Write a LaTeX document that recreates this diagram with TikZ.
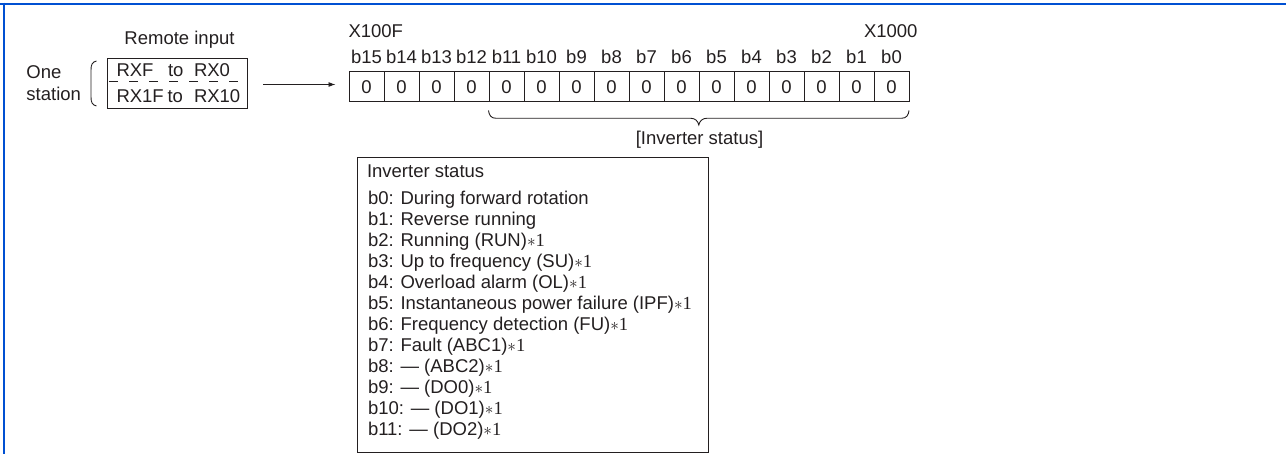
\documentclass[tikz,border=0pt]{standalone}
\usepackage{fontspec}
\setmainfont{Liberation Sans}
\newfontfamily\serifnum{Liberation Serif}
\usetikzlibrary{arrows.meta}
\definecolor{ink}{RGB}{35,31,32}
\definecolor{frameblue}{RGB}{0,80,210}
\newcommand{\fn}{{\serifnum$\ast$1}}
\begin{document}
\begin{tikzpicture}[x=1pt,y=-1pt,
  every node/.style={font=\fontsize{18.5}{21}\selectfont, text=ink, inner sep=0pt, outer sep=0pt},
  txt/.style={anchor=base},
  ltxt/.style={anchor=base west},
  cell/.style={draw=ink, line width=0.9pt, minimum width=35pt, minimum height=30pt},
  thin/.style={draw=ink, line width=0.9pt}]
\useasboundingbox (0,0) rectangle (1286,454);
% blue frame
\draw[frameblue, line width=2.2pt] (0,3.8) -- (1286,3.8);
\draw[frameblue, line width=2.2pt] (4,2.7) -- (4,454);

% left part
\node[txt] (remote) at (179.5,45) {Remote input};
\node[ltxt] (one) at (26.5,79) {One};
\node[ltxt] (station) at (26.5,100.5) {station};
\draw[thin] (96.5,61) .. controls (92,62) and (91,65) .. (91,70) -- (91,97) .. controls (91,102) and (92,105) .. (96.5,106);
\node[thin, minimum width=140.7pt, minimum height=50pt] (rib) at (177.35,83.3) {};
\draw[ink, line width=0.9pt, dash pattern=on 9pt off 11pt, dash phase=-2pt] (107,81.7) -- (247.7,81.7);
\node[ltxt] (rxf) at (116.5,76.5) {RXF};
\node[ltxt] (to1) at (168,76.5) {to};
\node[ltxt] (rx0) at (194,76.5) {RX0};
\node[ltxt] (rx1f) at (116.5,103) {RX1F};
\node[ltxt] (to2) at (167.5,103) {to};
\node[ltxt] (rx10) at (194,103) {RX10};

\coordinate (astart) at (263,84.5);
\coordinate (aend) at (335.5,84.5);
\draw[ink, line width=0.9pt, -{Latex[length=7pt,width=5pt]}] (astart) -- (aend);

% register
\node[ltxt] (x100f) at (348.5,37.5) {X100F};
\node[anchor=base east] (x1000) at (917.5,37.5) {X1000};
\foreach \j in {0,...,15}{
  \pgfmathtruncatemacro{\b}{15-\j}
  \node[cell] (c\b) at (366.5+35*\j,86.7) {0};
  \node[txt] (lb\b) at (366.5+35*\j,63.5) {b\b};
}
% brace
\draw[thin] (488.5,110.5) .. controls (489,115) and (491,118.3) .. (496,118.3) -- (691,118.3)
  .. controls (695,118.3) and (698,121) .. (698.8,125)
  .. controls (699.6,121) and (702.6,118.3) .. (706.6,118.3) -- (901.5,118.3)
  .. controls (906.5,118.3) and (908.5,115) .. (909,110.5);
\node[txt] (invlabel) at (699.5,145) {[Inverter status]};

% inverter status box
\node[thin, minimum width=351pt, minimum height=295pt] (invbox) at (532.5,304.5) {};
\node[ltxt] (head) at (367,177.5) {Inverter status};
\node[ltxt] (l0) at (368,204.5) {b0: During forward rotation};
\node[ltxt] (l1) at (368,225.5) {b1: Reverse running};
\node[ltxt] (l2) at (368,246.5) {b2: Running (RUN)\fn};
\node[ltxt] (l3) at (368,267.5) {b3: Up to frequency (SU)\fn};
\node[ltxt] (l4) at (368,288.5) {b4: Overload alarm (OL)\fn};
\node[ltxt] (l5) at (368,309.5) {b5: Instantaneous power failure (IPF)\fn};
\node[ltxt] (l6) at (368,330.5) {b6: Frequency detection (FU)\fn};
\node[ltxt] (l7) at (368,351.5) {b7: Fault (ABC1)\fn};
\node[ltxt] (l8) at (368,372.5) {b8: — (ABC2)\fn};
\node[ltxt] (l9) at (368,393.5) {b9: — (DO0)\fn};
\node[ltxt] (l10) at (368,414.5) {b10: — (DO1)\fn};
\node[ltxt] (l11) at (368,435.5) {b11: — (DO2)\fn};
\end{tikzpicture}
\end{document}
